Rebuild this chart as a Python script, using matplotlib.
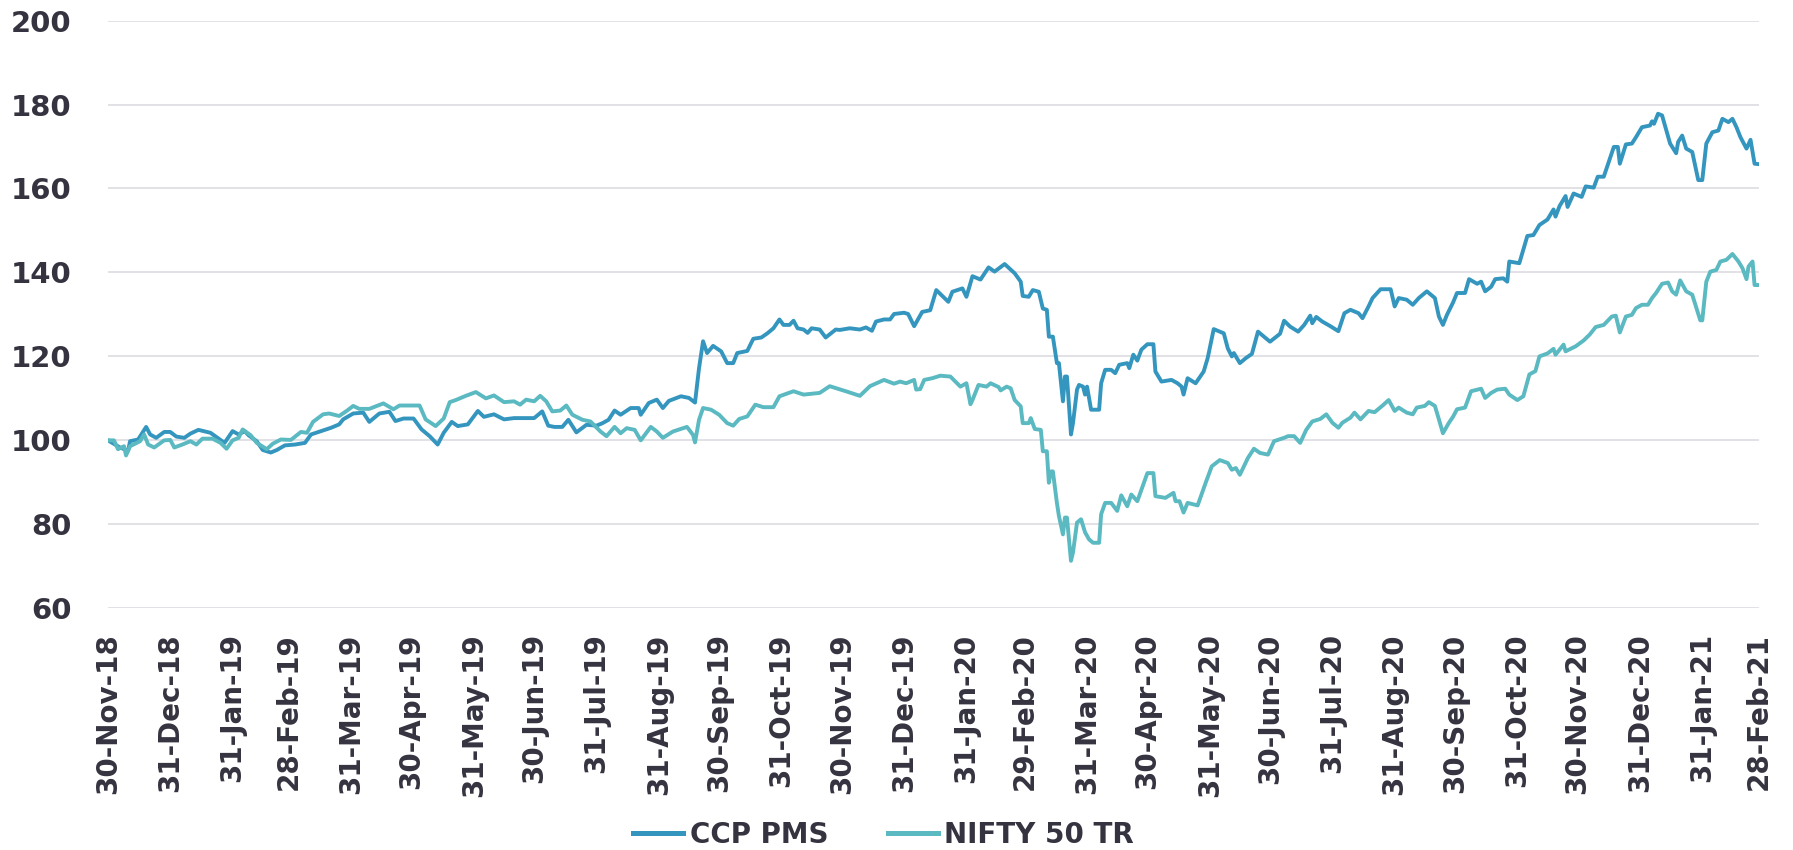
import pandas as pd
import matplotlib
matplotlib.use("Agg")
import matplotlib.pyplot as plt

start = pd.Timestamp("2018-11-30")

# days since 30-Nov-18, index value
ccp_day = [0, 6, 10, 11, 15, 19, 21, 24, 28, 31, 34, 38, 41, 45, 51, 56, 58, 62, 65, 68,
           70, 74, 77, 81, 84, 88, 93, 98, 101, 106, 111, 115, 117, 122, 127, 130, 135, 140, 143, 147,
           152, 156, 160, 164, 167, 171, 174, 179, 184, 187, 192, 197, 202, 207, 212, 216, 219, 222, 226, 229,
           233, 238, 243, 246, 249, 252, 255, 260, 264, 265, 269, 273, 276, 279, 285, 289, 292, 294, 296, 298,
           301, 305, 308, 311, 313, 318, 321, 325, 328, 331, 334, 336, 339, 341, 343, 346, 348, 350, 354, 357,
           362, 364, 369, 374, 377, 380, 382, 386, 389, 391, 396, 398, 401, 405, 409, 412, 418, 420, 425, 427,
           430, 434, 438, 441, 446, 449, 451, 454, 455, 458, 460, 463, 465, 467, 468, 470, 472, 473, 475, 476,
           477, 479, 480, 482, 483, 485, 486, 487, 489, 493, 494, 496, 499, 501, 503, 507, 508, 510, 512, 514,
           517, 520, 521, 524, 529, 532, 534, 535, 537, 541, 545, 547, 550, 553, 555, 557, 559, 560, 563, 566,
           569, 572, 575, 578, 583, 585, 588, 592, 595, 598, 599, 601, 604, 608, 612, 615, 618, 622, 624, 627,
           629, 633, 638, 640, 642, 646, 649, 652, 656, 660, 662, 664, 666, 669, 671, 675, 677, 681, 683, 685,
           688, 690, 694, 696, 697, 702, 706, 709, 712, 716, 719, 720, 722, 725, 726, 729, 733, 735, 739, 741,
           744, 749, 751, 752, 755, 758, 760, 763, 767, 768, 769, 771, 773, 777, 780, 781, 783, 785, 788, 791,
           793, 795, 798, 801, 803, 806, 808, 810, 812, 815, 817, 819, 821]
ccp_val = [100, 98.3, 97.5, 99.8, 100.2, 103.2, 101.4, 100.6, 102, 102, 100.9, 100.6, 101.6, 102.5, 101.8, 100.1, 99.4, 102.2, 101.4, 102.2,
           101.2, 99.8, 97.7, 97.1, 97.7, 98.8, 99, 99.4, 101.4, 102.2, 103, 103.8, 105, 106.4, 106.6, 104.4, 106.4, 106.8, 104.6, 105.2,
           105.2, 102.6, 101, 99, 101.8, 104.4, 103.4, 103.8, 107, 105.6, 106.2, 105, 105.3, 105.3, 105.3, 106.9, 103.5, 103.2, 103.2, 104.9,
           101.9, 103.7, 103.5, 104.1, 104.9, 107.1, 106.1, 107.7, 107.7, 106.1, 108.9, 109.7, 107.7, 109.4, 110.5, 110.1, 109, 117.2, 123.6, 120.8,
           122.5, 121.2, 118.4, 118.4, 120.8, 121.3, 124.2, 124.5, 125.5, 126.7, 128.8, 127.5, 127.5, 128.5, 126.7, 126.4, 125.6, 126.7, 126.4, 124.5,
           126.4, 126.3, 126.7, 126.4, 126.9, 126.1, 128.3, 128.8, 128.8, 130.1, 130.4, 130.1, 127.2, 130.6, 131, 135.8, 133, 135.4, 136.2, 134.2,
           139.1, 138.3, 141.2, 140.2, 142, 140.7, 139.8, 137.8, 134.4, 134.2, 135.8, 135.4, 131.4, 131.1, 124.7, 124.7, 118.4, 118.4, 109.3, 115.2,
           115.2, 101.4, 104.1, 112.1, 113.2, 112.8, 110.9, 112.8, 107.3, 107.3, 113.6, 116.8, 116.8, 116, 118, 118.4, 117.2, 120.4, 119, 121.6,
           122.9, 122.9, 116.4, 114, 114.4, 113.6, 112.8, 110.9, 114.8, 113.6, 116.4, 119.6, 126.5, 125.9, 125.5, 121.9, 120, 120.8, 118.4, 119.6,
           120.6, 125.9, 124.7, 123.5, 125.4, 128.5, 127.1, 125.9, 127.5, 129.7, 127.9, 129.4, 128.3, 127.2, 126, 130.3, 131.1, 130.3, 129.1, 131.9,
           133.9, 136, 136, 131.9, 133.9, 133.5, 132.3, 133.9, 135.5, 133.9, 129.5, 127.5, 129.9, 132.8, 135.1, 135.1, 138.4, 137.3, 137.8, 135.5,
           136.6, 138.4, 138.6, 137.8, 142.6, 142.2, 148.7, 148.9, 151.3, 152.6, 155, 153.3, 155.8, 158.2, 155.6, 158.8, 158, 160.5, 160.2, 162.8,
           162.8, 169.9, 169.9, 165.9, 170.5, 170.7, 172.2, 174.6, 175, 176, 175.4, 177.8, 177.4, 170.7, 168.4, 171.1, 172.6, 169.5, 168.7, 162,
           162, 170.7, 173.4, 173.8, 176.6, 175.8, 176.6, 174.6, 172.2, 169.5, 171.6, 165.9, 165.8]

nifty_day = [0, 3, 5, 8, 9, 11, 16, 18, 20, 23, 28, 31, 33, 37, 41, 44, 47, 52, 56, 59,
             62, 65, 67, 71, 74, 79, 82, 86, 91, 96, 99, 102, 107, 110, 115, 119, 122, 125, 130, 137,
             142, 145, 155, 158, 163, 167, 170, 173, 178, 183, 188, 192, 197, 202, 205, 208, 212, 215, 218, 221,
             225, 228, 231, 236, 240, 245, 248, 252, 255, 258, 262, 265, 270, 273, 276, 281, 288, 291, 292, 294,
             296, 300, 304, 308, 311, 314, 318, 322, 326, 331, 334, 341, 346, 354, 359, 367, 374, 379, 386, 391,
             394, 397, 401, 402, 404, 406, 410, 414, 419, 424, 427, 429, 430, 433, 437, 439, 443, 444, 447, 449,
             451, 454, 455, 458, 459, 461, 464, 465, 467, 468, 469, 470, 472, 473, 475, 476, 477, 479, 480, 482,
             484, 486, 488, 490, 493, 494, 496, 499, 502, 504, 507, 509, 512, 517, 520, 521, 526, 530, 531, 533,
             535, 537, 542, 546, 549, 553, 557, 559, 561, 563, 567, 570, 573, 577, 580, 585, 587, 590, 593, 596,
             599, 603, 606, 609, 612, 614, 618, 620, 623, 627, 630, 634, 637, 640, 642, 646, 649, 651, 655, 657,
             660, 662, 664, 667, 669, 671, 675, 678, 683, 685, 688, 691, 695, 697, 701, 704, 707, 710, 712, 716,
             719, 720, 724, 725, 730, 734, 737, 740, 744, 748, 750, 752, 755, 758, 760, 763, 766, 768, 770, 773,
             776, 778, 780, 782, 785, 788, 792, 793, 795, 797, 800, 802, 805, 808, 811, 813, 815, 816, 818, 819,
             821]
nifty_val = [100, 100, 97.9, 98.6, 96.4, 98.6, 99.8, 101.4, 99, 98.3, 100, 100.1, 98.3, 99, 99.8, 99, 100.4, 100.4, 99.4, 98,
             100, 100.6, 102.6, 101.2, 99.4, 97.9, 99.2, 100.2, 100.1, 102, 101.8, 104.4, 106.2, 106.4, 105.8, 107.1, 108.2, 107.5, 107.5, 108.8,
             107.4, 108.3, 108.3, 105, 103.4, 105.2, 109.1, 109.6, 110.6, 111.5, 110, 110.7, 109.1, 109.3, 108.5, 109.7, 109.3, 110.6, 109.3, 106.9,
             107.1, 108.3, 106.1, 104.9, 104.5, 102.1, 101, 103.2, 101.7, 102.9, 102.5, 100, 103.2, 102.1, 100.6, 102.1, 103.2, 101.3, 99.5, 104.9,
             107.7, 107.3, 106.1, 104.1, 103.5, 105.1, 105.7, 108.5, 107.9, 107.9, 110.5, 111.7, 110.9, 111.3, 112.9, 111.7, 110.6, 112.9, 114.4, 113.5,
             114, 113.6, 114.4, 112.1, 112.2, 114.4, 114.8, 115.4, 115.2, 112.8, 113.6, 108.6, 109.6, 113.2, 112.8, 113.6, 112.7, 111.9, 112.8, 112.4,
             109.6, 108.1, 104.1, 104.1, 105.3, 102.7, 102.5, 97.4, 97.4, 89.9, 92.6, 92.6, 85.1, 82, 77.6, 81.6, 81.6, 71.3, 73.3, 80.4,
             81.2, 78.1, 76.4, 75.6, 75.6, 82.4, 85.1, 85.1, 83.2, 86.9, 84.3, 87.1, 85.5, 92.2, 92.2, 86.7, 86.3, 87.5, 85.5, 85.5,
             82.8, 85.1, 84.5, 89.9, 93.8, 95.3, 94.6, 93, 93.4, 91.8, 95.8, 98, 97, 96.6, 99.8, 100.6, 101, 101, 99.4, 102.5,
             104.5, 105.1, 106.2, 104.2, 103, 104.2, 105.4, 106.6, 105, 107, 106.7, 108.3, 109.6, 107, 107.8, 106.6, 106.2, 107.8, 108.2, 109.1,
             108.2, 105, 101.7, 104.2, 105.6, 107.4, 107.8, 111.7, 112.3, 110.1, 111.3, 112.1, 112.3, 110.9, 109.6, 110.5, 115.7, 116.5, 120, 120.7,
             121.8, 120.4, 122.8, 121.2, 122.4, 123.8, 125.2, 127, 127.5, 129.5, 129.7, 125.7, 129.5, 129.9, 131.5, 132.3, 132.3, 133.9, 135.1, 137.3,
             137.6, 135.5, 134.7, 138.1, 135.5, 134.7, 128.6, 128.6, 137.8, 140.2, 140.6, 142.6, 143, 144.4, 142.6, 141, 138.4, 141.4, 142.6, 137,
             137]

tick_labels = ["30-Nov-18", "31-Dec-18", "31-Jan-19", "28-Feb-19", "31-Mar-19", "30-Apr-19", "31-May-19",
               "30-Jun-19", "31-Jul-19", "31-Aug-19", "30-Sep-19", "31-Oct-19", "30-Nov-19", "31-Dec-19",
               "31-Jan-20", "29-Feb-20", "31-Mar-20", "30-Apr-20", "31-May-20", "30-Jun-20", "31-Jul-20",
               "31-Aug-20", "30-Sep-20", "31-Oct-20", "30-Nov-20", "31-Dec-20", "31-Jan-21", "28-Feb-21"]
y_ticks = [60, 80, 100, 120, 140, 160, 180, 200]

ccp_color = "#3496be"
nifty_color = "#5ab9c1"
text_color = "#35333f"

ccp_dates = start + pd.to_timedelta(ccp_day, unit="D")
nifty_dates = start + pd.to_timedelta(nifty_day, unit="D")
tick_dates = pd.to_datetime(tick_labels, format="%d-%b-%y")

fig = plt.figure(figsize=(17.93, 8.5), dpi=100)
ax = fig.add_axes([0.0602, 0.2844, 0.9206, 0.6914])

ax.plot(ccp_dates, ccp_val, color=ccp_color, lw=2.8, label="CCP PMS", zorder=3)
ax.plot(nifty_dates, nifty_val, color=nifty_color, lw=2.8, label="NIFTY 50 TR", zorder=3)

ax.set_ylim(60, 200)
ax.set_xlim(tick_dates[0], tick_dates[-1])
ax.set_yticks(y_ticks)
ax.set_yticklabels([str(v) for v in y_ticks], fontsize=21, fontweight="bold",
                   color=text_color, family="DejaVu Sans")
ax.set_xticks(tick_dates)
ax.set_xticklabels(tick_labels, rotation=90, fontsize=20, fontweight="bold",
                   color=text_color, family="DejaVu Sans",
                   va="top", ha="center")
ax.tick_params(axis="both", length=0)
ax.tick_params(axis="x", pad=18)
ax.tick_params(axis="y", pad=26)

ax.grid(axis="y", color="#dcdbe2", lw=1.2, zorder=0)
for s in ax.spines.values():
    s.set_visible(False)

leg = fig.legend(loc="center", bbox_to_anchor=(0.4928, 0.0176), ncol=2, frameon=False,
                 handlelength=1.8, handletextpad=0.22, columnspacing=2.15,
                 prop={"family": "DejaVu Sans", "weight": "bold", "size": 20})
for t in leg.get_texts():
    t.set_color(text_color)
for l in leg.get_lines():
    l.set_linewidth(3.6)

fig.savefig("out.png", dpi=100)
